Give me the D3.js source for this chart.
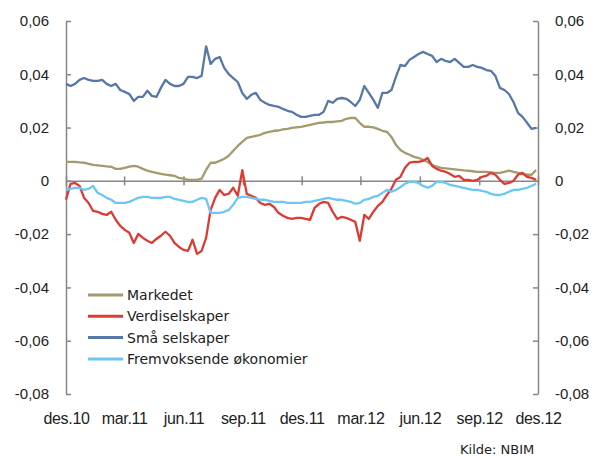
<!DOCTYPE html>
<html>
<head>
<meta charset="utf-8">
<script src="https://cdn.jsdelivr.net/npm/d3@7"></script>
<style>
  body { margin: 0; background: #fff; }
  svg { display: block; font-family: "DejaVu Sans", sans-serif; }
  .axis path, .axis line { stroke: #878787; stroke-width: 1.5; }
  .axis text { fill: #222; font-size: 15px; }
  .axis.months text { font-size: 16px; letter-spacing: -0.3px; }
</style>
</head>
<body>
<div id="chart"></div>
<script>

// Weekly readings, des.10 - des.12 (relative return, share of 1)
var seriesNames = ["Markedet", "Verdiselskaper", "Små selskaper", "Fremvoksende økonomier"];
var seriesColors = ["#a39a6e", "#dd3b32", "#5777a6", "#6cc6f6"];

var tickLabels = ["des.10", "mar.11", "jun.11", "sep.11", "des.11", "mar.12", "jun.12", "sep.12", "des.12"];
var yTicks = [-0.08, -0.06, -0.04, -0.02, 0, 0.02, 0.04, 0.06];

var markedet = [
  0.0071, 0.0071, 0.0071, 0.0069, 0.0068, 0.0064, 0.0060, 0.0058, 0.0056, 0.0054,
  0.0053, 0.0045, 0.0045, 0.0049, 0.0053, 0.0056, 0.0053, 0.0045, 0.0038, 0.0034,
  0.0030, 0.0026, 0.0023, 0.0021, 0.0019, 0.0011, 0.0008, 0.0004, 0.0004, 0.0004,
  0.0008, 0.0041, 0.0068, 0.0068, 0.0075, 0.0083, 0.0094, 0.0113, 0.0131, 0.0146,
  0.0161, 0.0165, 0.0169, 0.0173, 0.0180, 0.0184, 0.0188, 0.0189, 0.0193, 0.0195,
  0.0199, 0.0201, 0.0203, 0.0206, 0.0210, 0.0214, 0.0218, 0.0219, 0.0221, 0.0221,
  0.0223, 0.0225, 0.0233, 0.0236, 0.0236, 0.0218, 0.0203, 0.0203, 0.0201, 0.0195,
  0.0188, 0.0184, 0.0165, 0.0135, 0.0116, 0.0105, 0.0098, 0.0090, 0.0086, 0.0079,
  0.0071, 0.0060, 0.0053, 0.0049, 0.0047, 0.0045, 0.0043, 0.0041, 0.0039, 0.0038,
  0.0036, 0.0034, 0.0034, 0.0034, 0.0032, 0.0030, 0.0030, 0.0034, 0.0038, 0.0034,
  0.0030, 0.0026, 0.0023, 0.0023, 0.0041
];

var verdiselskaper = [
  -0.0071, -0.0011, -0.0008, -0.0019, -0.0064, -0.0083, -0.0113, -0.0116, -0.0124, -0.0128,
  -0.0116, -0.0146, -0.0169, -0.0184, -0.0195, -0.0233, -0.0199, -0.0214, -0.0225, -0.0233,
  -0.0218, -0.0206, -0.0191, -0.0206, -0.0233, -0.0248, -0.0259, -0.0263, -0.0221, -0.0274,
  -0.0263, -0.0214, -0.0109, -0.0064, -0.0034, -0.0053, -0.0049, -0.0026, -0.0056, 0.0040,
  -0.0049, -0.0056, -0.0064, -0.0083, -0.0090, -0.0086, -0.0098, -0.0120, -0.0131, -0.0139,
  -0.0143, -0.0139, -0.0139, -0.0143, -0.0146, -0.0101, -0.0086, -0.0079, -0.0083, -0.0116,
  -0.0143, -0.0135, -0.0139, -0.0146, -0.0154, -0.0225, -0.0128, -0.0143, -0.0116, -0.0094,
  -0.0079, -0.0053, -0.0030, 0.0004, 0.0015, 0.0049, 0.0068, 0.0071, 0.0071, 0.0075,
  0.0086, 0.0056, 0.0045, 0.0038, 0.0034, 0.0026, 0.0015, 0.0019, 0.0004, 0.0004,
  0.0000, 0.0004, 0.0015, 0.0019, 0.0030, 0.0023, 0.0004, -0.0011, -0.0008, 0.0000,
  0.0023, 0.0030, 0.0015, 0.0011, 0.0004
];

var smaSelskaper = [
  0.0364, 0.0356, 0.0364, 0.0379, 0.0386, 0.0379, 0.0375, 0.0375, 0.0379, 0.0364,
  0.0356, 0.0364, 0.0341, 0.0334, 0.0326, 0.0300, 0.0315, 0.0315, 0.0338, 0.0319,
  0.0315, 0.0349, 0.0379, 0.0364, 0.0356, 0.0356, 0.0364, 0.0390, 0.0390, 0.0386,
  0.0394, 0.0505, 0.0439, 0.0458, 0.0465, 0.0424, 0.0401, 0.0386, 0.0371, 0.0330,
  0.0308, 0.0323, 0.0330, 0.0304, 0.0293, 0.0285, 0.0281, 0.0278, 0.0270, 0.0263,
  0.0259, 0.0248, 0.0240, 0.0240, 0.0244, 0.0248, 0.0248, 0.0259, 0.0300, 0.0293,
  0.0308, 0.0311, 0.0308, 0.0296, 0.0281, 0.0304, 0.0356, 0.0330, 0.0304, 0.0274,
  0.0330, 0.0330, 0.0341, 0.0390, 0.0435, 0.0431, 0.0454, 0.0465, 0.0476, 0.0484,
  0.0476, 0.0469, 0.0446, 0.0458, 0.0450, 0.0446, 0.0458, 0.0443, 0.0428, 0.0428,
  0.0435, 0.0428, 0.0424, 0.0416, 0.0413, 0.0394, 0.0349, 0.0341, 0.0326, 0.0296,
  0.0255, 0.0240, 0.0218, 0.0195, 0.0199
];

var fremvoksende = [
  -0.0034, -0.0030, -0.0026, -0.0026, -0.0034, -0.0030, -0.0019, -0.0045, -0.0053, -0.0064,
  -0.0071, -0.0083, -0.0083, -0.0083, -0.0079, -0.0071, -0.0064, -0.0060, -0.0060, -0.0064,
  -0.0064, -0.0064, -0.0060, -0.0060, -0.0068, -0.0071, -0.0075, -0.0079, -0.0079, -0.0071,
  -0.0064, -0.0068, -0.0120, -0.0120, -0.0120, -0.0116, -0.0109, -0.0090, -0.0064, -0.0060,
  -0.0060, -0.0064, -0.0068, -0.0071, -0.0071, -0.0075, -0.0079, -0.0079, -0.0079, -0.0083,
  -0.0083, -0.0083, -0.0083, -0.0079, -0.0079, -0.0075, -0.0071, -0.0068, -0.0064, -0.0068,
  -0.0071, -0.0071, -0.0075, -0.0079, -0.0086, -0.0083, -0.0071, -0.0068, -0.0060, -0.0056,
  -0.0045, -0.0034, -0.0041, -0.0034, -0.0023, -0.0011, -0.0004, -0.0004, -0.0008, -0.0019,
  -0.0026, -0.0019, -0.0004, -0.0004, -0.0008, -0.0015, -0.0019, -0.0023, -0.0026, -0.0030,
  -0.0034, -0.0034, -0.0038, -0.0041, -0.0049, -0.0053, -0.0053, -0.0049, -0.0041, -0.0034,
  -0.0034, -0.0030, -0.0026, -0.0019, -0.0011
];

var allSeries = [markedet, verdiselskaper, smaSelskaper, fremvoksende];

var width = 595, height = 456;
var plotLeft = 66, plotRight = 538, plotTop = 21, plotBottom = 394;

var startDate = new Date(2010, 11, 1);
var endDate = new Date(2012, 11, 1);
var dates = markedet.map(function(d, i) { return d3.timeDay.offset(startDate, 7 * i); });

var x = d3.scaleTime().domain([startDate, endDate]).range([plotLeft, plotRight]);
var y = d3.scaleLinear().domain([-0.08, 0.06]).range([plotBottom, plotTop]);

var comma = d3.formatLocale({ decimal: ",", thousands: " ", grouping: [3], currency: ["", ""], minus: "-" }).format(".2f");
function yFormat(d) { return d === 0 ? "0" : comma(d); }

var svg = d3.select("#chart").append("svg")
  .attr("width", width).attr("height", height);

// y axes, ticks pointing inward
svg.append("g").attr("class", "axis")
  .attr("transform", "translate(" + plotLeft + ",0)")
  .call(d3.axisLeft(y).tickValues(yTicks).tickSize(-5).tickSizeOuter(0).tickPadding(17).tickFormat(yFormat));

svg.append("g").attr("class", "axis")
  .attr("transform", "translate(" + plotRight + ",0)")
  .call(d3.axisRight(y).tickValues(yTicks).tickSize(-5).tickSizeOuter(0).tickPadding(17).tickFormat(yFormat));

// zero line with quarter ticks crossing it
var quarterTicks = d3.timeMonth.range(startDate, d3.timeDay.offset(endDate, 1), 3);
var zeroAxis = svg.append("g").attr("class", "axis")
  .attr("transform", "translate(0," + y(0) + ")")
  .call(d3.axisBottom(x).tickValues(quarterTicks).tickSizeOuter(0).tickFormat(""));
zeroAxis.selectAll(".tick line").attr("y1", -4.5).attr("y2", 4.5);

// month labels below the plot
var labelAxis = svg.append("g").attr("class", "axis months")
  .attr("transform", "translate(0," + plotBottom + ")")
  .call(d3.axisBottom(x).tickValues(quarterTicks).tickSize(0)
    .tickFormat(function(d, i) { return tickLabels[i]; }));
labelAxis.select(".domain").remove();
labelAxis.selectAll("text").attr("y", 30).attr("dy", 0);

var line = d3.line()
  .x(function(d, i) { return x(dates[i]); })
  .y(function(d) { return y(d); });

allSeries.forEach(function(values, k) {
  svg.append("path")
    .datum(values)
    .attr("fill", "none")
    .attr("stroke", seriesColors[k])
    .attr("stroke-width", 2.3)
    .attr("stroke-linejoin", "round")
    .attr("d", line);
});

// legend
var legend = svg.append("g").attr("transform", "translate(88,295)");
seriesNames.forEach(function(name, k) {
  var row = legend.append("g").attr("transform", "translate(0," + (k * 21.3) + ")");
  row.append("line")
    .attr("x1", 0).attr("x2", 35)
    .attr("stroke", seriesColors[k]).attr("stroke-width", 3);
  row.append("text")
    .attr("x", 39).attr("dy", "0.35em")
    .attr("fill", "#222").style("font-size", "14px")
    .text(name);
});

svg.append("text")
  .attr("x", 460).attr("y", 449).attr("dy", "0.35em")
  .attr("fill", "#222").style("font-size", "13px")
  .text("Kilde: NBIM");

</script>
</body>
</html>
